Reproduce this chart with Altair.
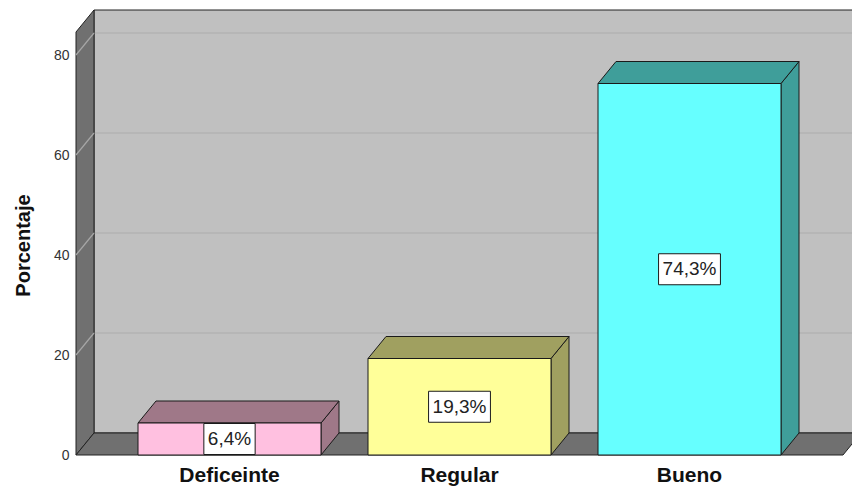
import altair as alt
import pandas as pd

categories = ["Deficeinte", "Regular", "Bueno"]
values = [6.4, 19.3, 74.3]
front_colors = ["#ffc0e0", "#ffff99", "#66ffff"]
side_colors = ["#9f7888", "#a0a060", "#3f9e9a"]
y_ticks = [0, 20, 40, 60, 80]

# geometry (x in pixel-like units, y in percent units)
W, H = 776, 445
YMAX = 89
DX, DY = 18, 4.4
FIRST, STEP, HALF = 153.5, 230, 91.5
FLOOR_END = 767
LAB_FS = 19
CHAR_EM = {"0": .556, "1": .556, "2": .556, "3": .556, "4": .556, "5": .556, "6": .556,
           "7": .556, "8": .556, "9": .556, ",": .278, "%": .889}

xs = alt.Scale(domain=[0, W], nice=False, zero=False)
ys = alt.Scale(domain=[0, YMAX], nice=False, zero=False)
yaxis = alt.Axis(values=y_ticks, domain=False, ticks=False, grid=False, labelFontSize=14,
                 labelFont="Liberation Sans", labelColor="#333", labelPadding=7,
                 title="Porcentaje", titleFont="Liberation Sans", titleFontSize=20,
                 titleFontWeight="bold", titleColor="#111",
                 titleX=-53, titleY=235, titleAlign="center", titleBaseline="middle",
                 titleAngle=270)


def X(f):
    return alt.X(f, type="quantitative", scale=xs, axis=None)


def Y(f):
    return alt.Y(f, type="quantitative", scale=ys, axis=yaxis)


# walls
back = pd.DataFrame({"x": [DX], "x2": [W + 20], "y": [DY], "y2": [YMAX]})
back_wall = alt.Chart(back).mark_rect(fill="#c0c0c0", stroke="#222", strokeWidth=1).encode(
    x=X("x"), x2="x2", y=Y("y"), y2="y2")

left = pd.DataFrame({"x": [0, DX], "y": [0, DY], "y2": [YMAX - DY, YMAX]})
left_wall = alt.Chart(left).mark_area(orient="vertical", fill="#707070", stroke="#222",
                                      strokeWidth=1, interpolate="linear").encode(
    x=X("x"), y=Y("y"), y2="y2")

floor = pd.DataFrame({"y": [0, DY], "x": [0, DX], "x2": [FLOOR_END, FLOOR_END + DX]})
floor_layer = alt.Chart(floor).mark_area(orient="horizontal", fill="#707070", stroke="#222",
                                         strokeWidth=1).encode(
    y=Y("y"), x=X("x"), x2="x2")

grid_vals = [v for v in y_ticks if v > 0]
gback = pd.DataFrame({"x": [DX] * len(grid_vals), "x2": [W + 20] * len(grid_vals),
                      "y": [v + DY for v in grid_vals]})
grid_back = alt.Chart(gback).mark_rule(color="#acacac", strokeWidth=1.2).encode(
    x=X("x"), x2="x2", y=Y("y"))
gleft = pd.DataFrame({"x": [0] * len(grid_vals), "x2": [DX] * len(grid_vals),
                      "y": grid_vals, "y2": [v + DY for v in grid_vals]})
grid_left = alt.Chart(gleft).mark_rule(color="#a6a6a6", strokeWidth=1.2).encode(
    x=X("x"), x2="x2", y=Y("y"), y2="y2")

# bars
rows_front, rows_side, rows_top, rows_lab = [], [], [], []
for i, (c, v) in enumerate(zip(categories, values)):
    cx = FIRST + STEP * i
    x0, x1 = cx - HALF, cx + HALF
    txt = f"{v:.1f}".replace(".", ",") + "%"
    half_box = (sum(CHAR_EM[ch] for ch in txt) * LAB_FS + 8) / 2
    rows_front.append({"cat": c, "x": x0, "x2": x1, "y": 0, "y2": v})
    rows_side.append({"cat": c, "x": x1, "y": 0, "y2": v})
    rows_side.append({"cat": c, "x": x1 + DX, "y": DY, "y2": v + DY})
    rows_top.append({"cat": c, "y": v, "x": x0, "x2": x1})
    rows_top.append({"cat": c, "y": v + DY, "x": x0 + DX, "x2": x1 + DX})
    rows_lab.append({"cat": c, "cx": cx, "xa": cx - half_box, "xb": cx + half_box,
                     "cy": v / 2, "ya": v / 2 - 3.1, "yb": v / 2 + 3.1,
                     "txt": txt, "ly": -4.1})

fdf = pd.DataFrame(rows_front)
sdf = pd.DataFrame(rows_side)
tdf = pd.DataFrame(rows_top)
ldf = pd.DataFrame(rows_lab)

side_scale = alt.Scale(domain=categories, range=side_colors)
front_scale = alt.Scale(domain=categories, range=front_colors)

sides = alt.Chart(sdf).mark_area(orient="vertical", stroke="#1a1a1a", strokeWidth=1,
                                 fillOpacity=1).encode(
    x=X("x"), y=Y("y"), y2="y2", detail="cat:N",
    fill=alt.Fill("cat:N", scale=side_scale, legend=None))
tops = alt.Chart(tdf).mark_area(orient="horizontal", stroke="#1a1a1a", strokeWidth=1,
                                fillOpacity=1).encode(
    y=Y("y"), x=X("x"), x2="x2", detail="cat:N",
    fill=alt.Fill("cat:N", scale=side_scale, legend=None))
fronts = alt.Chart(fdf).mark_rect(stroke="#1a1a1a", strokeWidth=1).encode(
    x=X("x"), x2="x2", y=Y("y"), y2="y2",
    color=alt.Color("cat:N", scale=front_scale, legend=None))

boxes = alt.Chart(ldf).mark_rect(fill="white", stroke="#1a1a1a", strokeWidth=1).encode(
    x=X("xa"), x2="xb", y=Y("ya"), y2="yb")
texts = alt.Chart(ldf).mark_text(font="Liberation Sans", fontSize=LAB_FS, color="#222").encode(
    x=X("cx"), y=Y("cy"), text="txt:N")
cat_labels = alt.Chart(ldf).mark_text(font="Liberation Sans", fontSize=21, fontWeight="bold",
                                      color="#111").encode(
    x=X("cx"), y=Y("ly"), text="cat:N")

chart = alt.layer(back_wall, grid_back, left_wall, grid_left, floor_layer,
                  sides, tops, fronts, boxes, texts, cat_labels).resolve_scale(
    fill="independent", color="independent").properties(
    width=W, height=H, autosize="none",
    padding={"left": 76, "top": 10, "right": 0, "bottom": 31},
    background="white",
).configure_view(stroke=None)

chart.save("out.html", embed_options={"renderer": "svg", "actions": False})
